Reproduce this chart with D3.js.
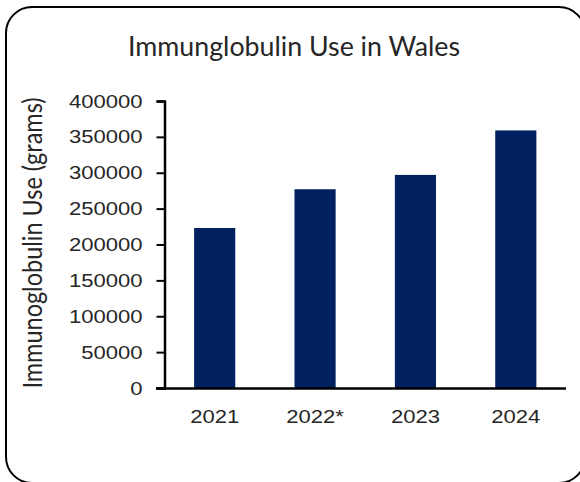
<!DOCTYPE html>
<html>
<head>
<meta charset="utf-8">
<script src="https://cdn.jsdelivr.net/npm/d3@7"></script>
<style>
  html, body { margin: 0; padding: 0; background: #fff; }
  svg { display: block; }
</style>
</head>
<body>
<script>
const categories = ["2021", "2022*", "2023", "2024"];
const values = [223000, 277000, 297000, 359000];
const yTicks = [0, 50000, 100000, 150000, 200000, 250000, 300000, 350000, 400000];
const titleText = "Immunglobulin Use in Wales";
const yTitleText = "Immunoglobulin Use (grams)";

const W = 580, H = 482;
const svg = d3.select("body").append("svg").attr("width", W).attr("height", H);

// widen text horizontally (reference is slightly stretched)
function stretch(sel, k) {
  sel.each(function() {
    const len = this.getComputedTextLength();
    d3.select(this).attr("textLength", len * k).attr("lengthAdjust", "spacingAndGlyphs");
  });
}

// outer rounded border
svg.append("rect")
  .attr("x", 6).attr("y", 7).attr("width", 579).attr("height", 476)
  .attr("rx", 26).attr("ry", 26)
  .attr("fill", "#fff").attr("stroke", "#000").attr("stroke-width", 2);

const x = d3.scaleBand().domain(categories).range([164.5, 566]).paddingInner(0.59).paddingOuter(0.295);
const y = d3.scaleLinear().domain([0, 400000]).range([388, 101]);

// bars
svg.append("g").selectAll("rect").data(values).join("rect")
  .attr("x", (d, i) => x(categories[i]))
  .attr("y", d => y(d))
  .attr("width", x.bandwidth())
  .attr("height", d => y(0) - y(d))
  .attr("fill", "#002060");

// y axis
const yAxis = d3.axisLeft(y).tickValues(yTicks).tickSize(8).tickPadding(14).tickFormat(d3.format("d"));
const gy = svg.append("g").attr("transform", "translate(164.5,0)").call(yAxis);
gy.select(".domain").attr("stroke", "#000").attr("stroke-width", 2.5);
gy.selectAll(".tick line").attr("stroke", "#000").attr("stroke-width", 2);
gy.selectAll(".tick text")
  .attr("font-family", "'Liberation Sans', Arial, sans-serif")
  .attr("font-size", 19).attr("fill", "#262626");
stretch(gy.selectAll(".tick text"), 1.16);

// x axis
const xAxis = d3.axisBottom(x).tickSize(0).tickPadding(21);
const gx = svg.append("g").attr("transform", "translate(0,388.5)").call(xAxis);
gx.select(".domain").attr("d", "M156,0H566").attr("stroke", "#000").attr("stroke-width", 2.5);
gx.selectAll(".tick text")
  .attr("font-family", "'Liberation Sans', Arial, sans-serif")
  .attr("font-size", 19).attr("fill", "#262626");
stretch(gx.selectAll(".tick text"), 1.16);

// title
const title = svg.append("text")
  .attr("x", 294).attr("y", 56)
  .attr("text-anchor", "middle")
  .attr("font-family", "Lato, 'Open Sans', sans-serif")
  .attr("font-size", 26).attr("fill", "#262626")
  .text(titleText);
stretch(title, 332 / title.node().getComputedTextLength());

// y axis title
svg.append("text")
  .attr("transform", "translate(33,243) scale(1.15,1) rotate(-90)")
  .attr("text-anchor", "middle")
  .attr("dy", "0.35em")
  .attr("font-family", "Lato, 'Open Sans', sans-serif")
  .attr("font-size", 23.5).attr("fill", "#262626")
  .text(yTitleText);
</script>
</body>
</html>
